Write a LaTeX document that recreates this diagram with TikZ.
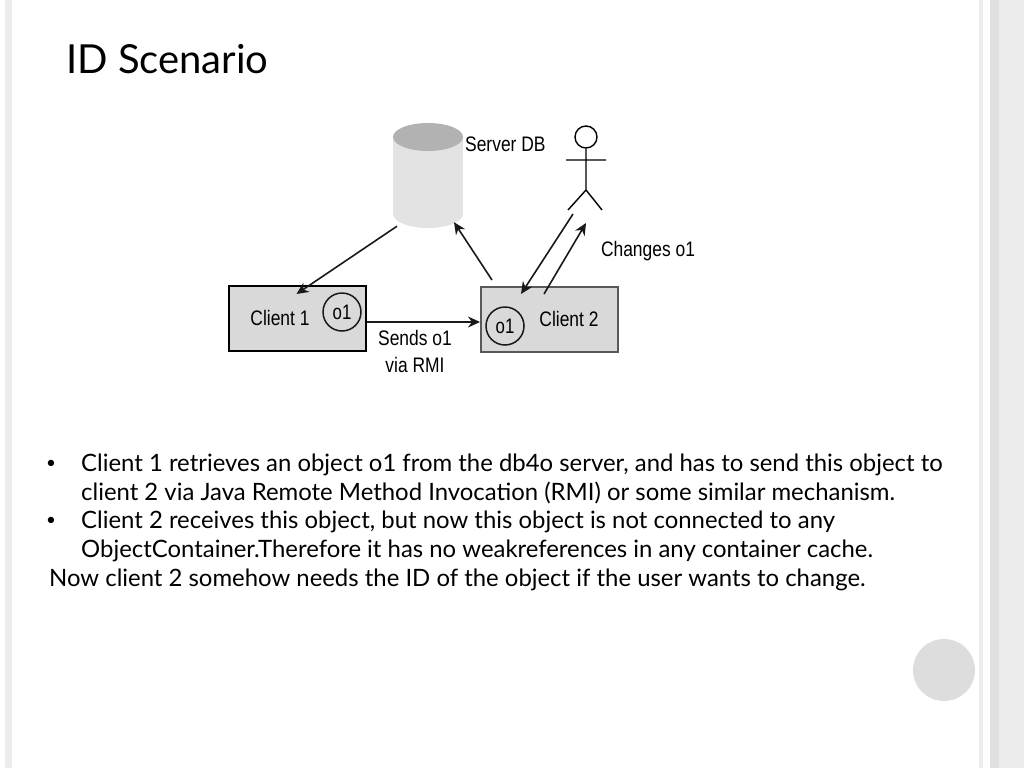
\documentclass[tikz,border=0pt]{standalone}
\usepackage{fontspec}
\setmainfont{Lato}
\newfontfamily\figfont{Liberation Sans}
\usetikzlibrary{shapes.geometric,arrows.meta}
\definecolor{bandgray}{HTML}{ECECEC}
\definecolor{boxgray}{HTML}{D9D9D9}
\tikzset{
    client/.style={
        rectangle,
        draw=#1,
        line width=2pt,
        fill=boxgray,
        minimum width=137pt,
        minimum height=65pt,
        inner sep=0pt
    },
    obj/.style={
        circle,
        draw=black!90,
        line width=1.5pt,
        minimum size=38pt,
        inner sep=0pt
    },
    objtext/.style={
        inner sep=0pt,
        font=\figfont\fontsize{21}{22}\selectfont,
        xscale=0.8
    },
    figlabel/.style={
        inner sep=0pt,
        font=\figfont\fontsize{21}{22}\selectfont,
        xscale=0.83
    },
    flow/.style={
        -{Stealth[length=12pt,width=11pt]},
        line width=1.6pt,
        draw=black!90
    },
    dbpart/.style={
        inner sep=0pt,
        minimum width=70pt
    },
    bodytext/.style={
        anchor=base west,
        inner sep=0pt,
        align=left,
        font=\fontsize{23.9}{28.7}\selectfont
    },
    bulletmark/.style={
        anchor=base,
        inner sep=0pt,
        font=\fontsize{17}{20}\selectfont
    }
}
\begin{document}
\begin{tikzpicture}[x=1pt,y=-1pt]
\useasboundingbox (0,0) rectangle (1024,768);
\fill[bandgray] (5,0) rectangle (12,768);
\fill[bandgray] (979,0) rectangle (983,768);
\fill[bandgray!95!black] (990,0) rectangle (999,768);
\fill[bandgray] (999,0) rectangle (1024,768);
\fill[boxgray!90!white] (944,670) circle (31);
\node[anchor=base west,inner sep=0pt,font=\fontsize{40}{48}\selectfont] (title) at (66,73) {ID Scenario};
\node[dbpart,ellipse,fill=black!11,minimum height=28pt] (db) at (428,214) {};
\node[dbpart,rectangle,fill=black!11,minimum height=78pt] (dbbody) at (428,175) {};
\node[dbpart,ellipse,fill=black!30,minimum height=28pt] (dbtop) at (428,137) {};
\node[figlabel,anchor=west] (dblabel) at (465,144) {Server DB};
\node[client=black] (client1) at (297.5,318.5) {};
\node[client=black!65] (client2) at (549.5,319.5) {};
\node[figlabel] (c1label) at (280,318) {Client 1};
\node[figlabel] (c2label) at (569,319) {Client 2};
\node[obj] (o1a) at (342,312) {};
\node[objtext] at (o1a) {o1};
\node[obj] (o1b) at (505,326) {};
\node[objtext] at (o1b) {o1};
\node[circle,draw,line width=1.4pt,minimum size=22pt,inner sep=0pt] (head) at (586,137) {};
\coordinate (hip) at (586,190);
\coordinate (armL) at (566,160);
\coordinate (armR) at (606,160);
\coordinate (footL) at (568,210);
\coordinate (footR) at (602,210);
\draw[line width=1.4pt] (head) -- (hip) (armL) -- (armR) (footL) -- (hip) -- (footR);
\node[figlabel] (sends) at (415,338) {Sends o1};
\node[figlabel] (via) at (415,365) {via RMI};
\node[figlabel] (changes) at (648,251) {Changes o1};
\draw[flow] ([xshift=-31pt,yshift=2pt]db.south) -- ([xshift=-1pt,yshift=-9pt]client1.north);
\draw[flow] ([yshift=-3.5pt]client1.east) -- ([yshift=-2.5pt]client2.west);
\draw[flow] ([xshift=-57.5pt,yshift=6pt]client2.north) -- ([xshift=26pt,yshift=6pt]db.south);
\draw[flow] ([xshift=-13pt,yshift=-24pt]hip) -- ([xshift=-28.5pt,yshift=-8pt]client2.north);
\draw[flow] ([xshift=-5.5pt,yshift=-8pt]client2.north) -- ([yshift=-33pt]hip);
\node[bulletmark] (b1) at (51,468.5) {•};
\node[bulletmark] (b2) at (51,525.5) {•};
\node[bodytext] (p1) at (81,500.5) {Client 1 retrieves an object o1 from the db4o server, and has to send this object to\\client 2 via Java Remote Method Invocation (RMI) or some similar mechanism.};
\node[bodytext] (p2) at (81,557.5) {Client 2 receives this object, but now this object is not connected to any\\ObjectContainer.Therefore it has no weakreferences in any container cache.};
\node[bodytext] (p3) at (49,586) {Now client 2 somehow needs the ID of the object if the user wants to change.};
\end{tikzpicture}
\end{document}
